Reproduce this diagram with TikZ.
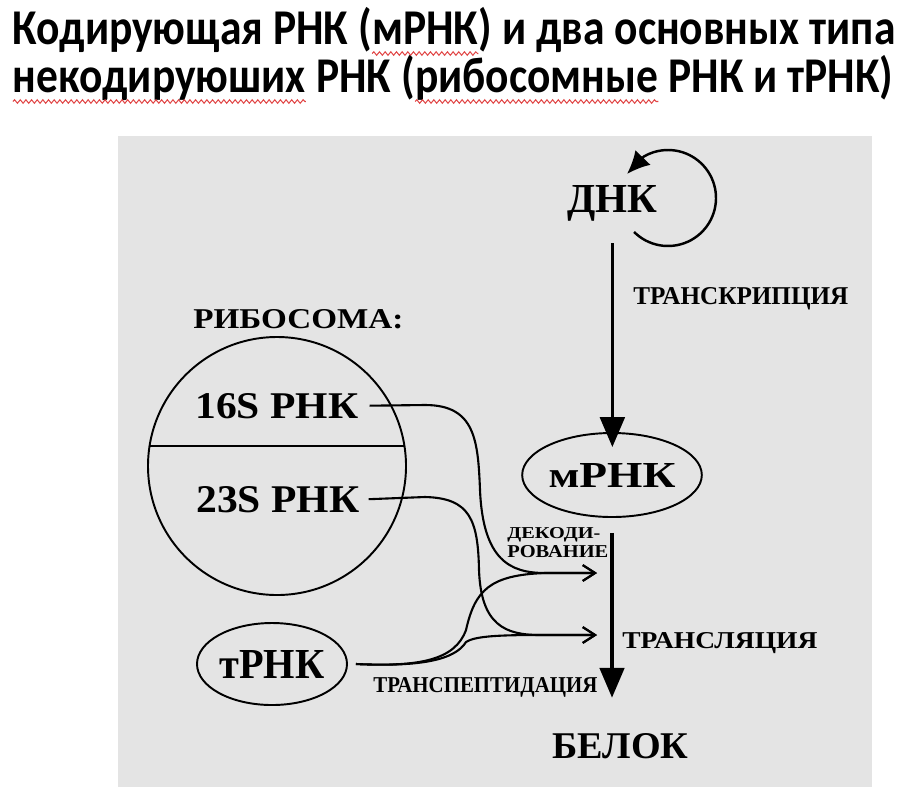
\documentclass[tikz,border=0pt]{standalone}
\usepackage{fontspec}
\setmainfont{Liberation Serif}
\newfontfamily\titlefont{Carlito}
\usetikzlibrary{arrows.meta,shapes.geometric,decorations.pathmorphing,calc}
\definecolor{wavered}{RGB}{225,70,70}
\definecolor{panel}{RGB}{228,228,228}
\newlength\pxu \setlength\pxu{0.02cm}
\newcommand\redwave[1]{\tikz[baseline=(w.base)]{\node[inner sep=0pt,outer sep=0pt](w){#1};
  \draw[wavered, line width=0.22pt, decorate, decoration={snake,amplitude=0.35pt,segment length=1.3pt}] ([yshift=-1.9pt]w.base west) -- ([yshift=-1.9pt]w.base east);}}
\newcommand\fitt[3]{\resizebox{#1\pxu}{#2\pxu}{\bfseries #3}}
\newcommand\titleline[2]{\scalebox{1}[1.15]{\resizebox{#1\pxu}{!}{\titlefont\bfseries #2}}}
\begin{document}
\begin{tikzpicture}[x=0.02cm,y=-0.02cm,
  lbl/.style={anchor=base west, inner sep=0pt},
  conn/.style={line width=1.2pt, -{Straight Barb[length=7pt,width=9pt]}},
  big/.style={line width=1.8pt, -{Triangle[length=17pt,width=14pt]}},
  oval/.style={draw, ellipse, line width=1.1pt, inner sep=0pt}]
\fill[white] (0,0) rectangle (908,795);
\useasboundingbox (0,0) rectangle (908,795);
\fill[panel] (118,136) rectangle (872,787);
% title
\node[lbl] (t1) at (12,44) {\titleline{883}{Кодирующая РНК (\redwave{мРНК}) и два основных типа}};
\node[lbl] (t2) at (12,92) {\titleline{881}{\redwave{некодируюших} РНК (\redwave{рибосомные} РНК и тРНК)}};
% labels
\node[lbl] (dnk) at (567,212) {\fitt{90}{27}{ДНК}};
\node[lbl] (belok) at (552,758) {\fitt{136}{25}{БЕЛОК}};
\node[lbl] (ribl) at (193,328) {\fitt{210}{19}{РИБОСОМА:}};
\node[lbl] (s16) at (195,418) {\fitt{163}{25}{16S РНК}};
\node[lbl] (s23) at (196,512) {\fitt{163}{26}{23S РНК}};
\node[lbl] (transcr) at (633,304) {\fitt{215}{17}{ТРАНСКРИПЦИЯ}};
\node[lbl] (dec1) at (507,538) {\fitt{93}{11}{ДЕКОДИ-}};
\node[lbl] (dec2) at (507,557) {\fitt{101}{12}{РОВАНИЕ}};
\node[lbl] (transl) at (622,648) {\fitt{195}{16}{ТРАНСЛЯЦИЯ}};
\node[lbl] (transp) at (373,692) {\fitt{224}{15}{ТРАНСПЕПТИДАЦИЯ}};
% shapes
\node[draw, circle, minimum size=258\pxu, line width=1.1pt, inner sep=0pt] (ribo) at (277,466) {};
\draw[line width=1.1pt] ($(ribo.center)+(-127.4,-20)$) -- ($(ribo.center)+(127.4,-20)$);
\node[oval, minimum width=155\pxu, minimum height=84\pxu] (mrna) at (612,475) {\fitt{127}{24}{мРНК}};
\node[oval, minimum width=150\pxu, minimum height=82\pxu] (trna) at (272,664) {\fitt{105}{28}{тРНК}};
% free ends of connectors
\coordinate (dec) at (597,573);
\coordinate (tra) at (597,635);
% DNA loop
\draw[line width=1.4pt, -{Latex[length=13pt,width=12pt]}] plot[domain=135:-120, samples=60] ({668+48*cos(\x)},{198+48*sin(\x)}) -- (627,174);
% vertical arrows
\draw[big, shorten >=16\pxu] ([yshift=-31\pxu]dnk.base) -- ([yshift=-31\pxu]dnk.base |- mrna.north);
\draw[big, shorten <=15\pxu, shorten >=35\pxu] (mrna.south) -- (mrna.south |- belok.north);
% connectors
\draw[conn] ([xshift=11\pxu]s16.east) -- (425,405) .. controls (475,405) and (478,440) .. (480,490) .. controls (483,560) and (510,573) .. (545,573) -- (dec);
\draw[conn] ([xshift=9\pxu]s23.east) -- (425,497) .. controls (470,498) and (478,520) .. (479,570) .. controls (481,625) and (505,635) .. (540,635) -- (tra);
\draw[conn] ([xshift=8\pxu]trna.east) .. controls (420,667) and (455,660) .. (466,630) .. controls (475,590) and (490,575) .. (545,573) -- (dec);
\draw[conn] ([xshift=8\pxu]trna.east) .. controls (420,667) and (455,660) .. (466,642) .. controls (475,636) and (500,635) .. (540,635) -- (tra);
\end{tikzpicture}
\end{document}
